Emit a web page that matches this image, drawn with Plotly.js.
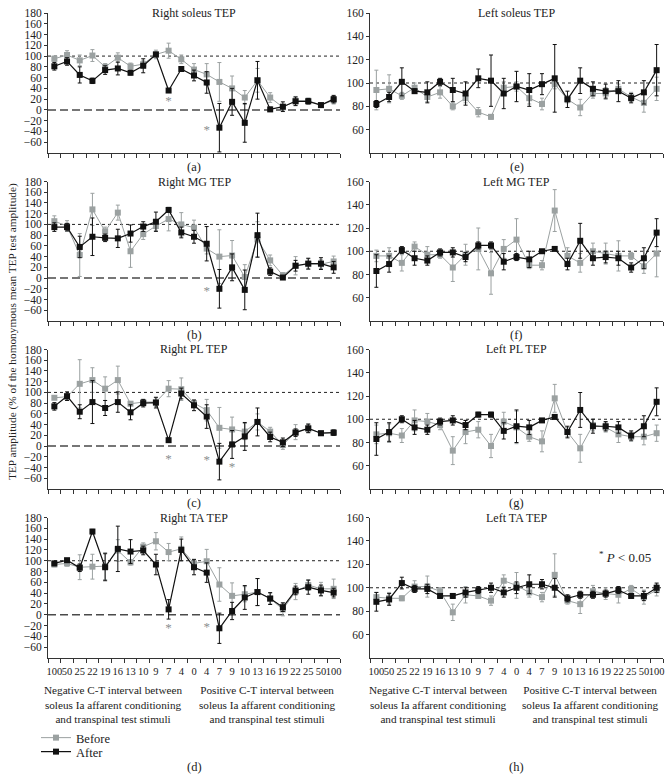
<!DOCTYPE html>
<html><head><meta charset="utf-8">
<script src="https://cdn.plot.ly/plotly-3.0.1.min.js"></script>
<style>html,body{margin:0;padding:0;background:#fff}#chart{width:670px;height:780px}</style>
</head><body><div id="chart"></div>
<script>
// C-T interval tick labels (negative side then positive side)
const ctLabels = ["100","50","25","22","19","16","13","10","9","7","4","0","4","7","9","10","13","16","19","22","25","50","100"];

// (a) Right soleus TEP
const rSolBefore    = [95,102,92,101,80,97,81,85,103,110,94,75,66,52,40,23,55,23,5,17,17,9,18];
const rSolBeforeErr = [5,8,10,11,6,9,6,6,8,14,8,11,20,36,23,13,22,9,5,8,5,3,7];
const rSolAfter     = [81,90,65,54,74,77,69,82,103,36,76,64,51,-33,15,-24,55,1,6,16,16,9,20];
const rSolAfterErr  = [7,7,15,5,8,12,4,13,4,3,4,10,20,45,25,36,35,4,9,8,5,2,7];

// (b) Right MG TEP
const rMgBefore     = [106,97,43,128,87,122,50,82,97,110,100,94,55,40,42,2,72,33,5,23,26,26,31];
const rMgBeforeErr  = [10,10,40,30,8,14,30,10,8,22,22,14,10,50,28,23,33,10,5,17,10,8,10];
const rMgAfter      = [95,95,58,77,75,74,83,96,105,127,85,77,64,-20,20,-22,80,12,1,23,27,27,20];
const rMgAfterErr   = [8,7,20,35,7,17,16,9,18,3,10,12,32,36,25,37,41,7,3,10,10,11,11];

// (c) Right PL TEP
const rPlBefore     = [90,92,116,123,107,123,79,82,82,107,106,80,67,34,31,27,45,27,2,26,33,24,25];
const rPlBeforeErr  = [3,5,45,23,22,26,4,5,8,15,21,5,20,38,23,15,15,8,8,14,8,3,5];
const rPlAfter      = [74,93,64,82,71,82,63,80,81,11,98,76,55,-29,3,18,45,17,7,25,33,24,25];
const rPlAfterErr   = [7,8,13,40,14,19,14,7,10,3,10,10,22,34,26,26,26,9,8,7,8,2,5];

// (d) Right TA TEP
const rTaBefore     = [93,95,88,89,90,119,97,126,136,116,122,95,99,56,35,38,42,30,10,43,55,48,48];
const rTaBeforeErr  = [4,5,23,23,25,20,5,7,16,16,22,8,22,31,24,14,25,10,12,15,10,12,18];
const rTaAfter      = [95,101,87,154,88,122,117,119,93,10,120,88,78,-25,7,32,42,30,14,45,51,45,41];
const rTaAfterErr   = [4,3,7,4,25,42,22,8,19,18,20,14,18,28,16,22,25,11,8,8,13,10,8];

// (e) Left soleus TEP
const lSolBefore    = [94,95,89,96,88,92,80,87,75,71,96,97,87,82,99,86,79,91,91,95,88,83,95];
const lSolBeforeErr = [17,12,3,4,4,5,3,4,4,2,5,4,5,5,4,3,7,4,5,4,4,8,10];
const lSolAfter     = [82,88,101,93,92,101,94,91,104,102,91,97,94,99,104,86,102,95,93,93,87,92,111];
const lSolAfterErr  = [3,4,12,2,9,3,10,10,8,22,13,13,14,9,29,7,11,6,6,9,4,10,22];

// (f) Left MG TEP
const lMgBefore     = [96,96,90,104,97,97,86,97,102,81,102,110,88,88,135,96,90,100,98,96,96,87,98];
const lMgBeforeErr  = [5,7,7,4,7,3,12,9,18,18,8,18,3,4,18,7,8,7,9,13,3,6,20];
const lMgAfter      = [83,89,101,94,92,99,99,95,105,105,91,95,93,100,102,89,109,94,95,94,86,94,116];
const lMgAfterErr   = [14,7,3,6,4,3,4,4,3,3,7,3,7,1,1,5,15,6,5,6,4,9,12];

// (g) Left PL TEP
const lPlBefore     = [87,88,86,99,98,95,73,89,91,77,98,93,85,81,118,89,75,95,93,87,85,85,88];
const lPlBeforeErr  = [8,8,6,9,7,4,12,10,7,10,8,14,4,9,12,4,12,5,4,7,4,7,7];
const lPlAfter      = [83,89,100,93,91,98,99,95,104,104,90,94,93,99,102,89,108,94,94,93,86,94,115];
const lPlAfterErr   = [14,8,3,6,4,3,4,4,2,2,7,14,6,1,1,5,15,6,4,5,4,9,12];

// (h) Left TA TEP
const lTaBefore     = [92,91,91,101,101,97,79,94,93,89,106,102,96,92,111,89,86,97,95,94,99,92,98];
const lTaBeforeErr  = [4,5,2,5,9,3,7,7,2,4,5,11,4,4,18,3,8,5,5,7,3,6,5];
const lTaAfter      = [88,90,104,99,99,93,93,96,98,100,96,100,103,103,100,91,94,94,95,98,93,93,100];
const lTaAfterErr   = [8,5,5,3,4,2,2,4,3,4,4,5,8,4,8,3,3,3,3,3,2,4,4];

// significance marks: [panel, category index, y]
const sigPanel = [0,0,1,2,2,2,3,3];
const sigIndex = [9,12,12,9,12,14,9,12];
const sigY     = [15,-39,-25,-25,-27,-40,-26,-24];

const FONT = "Liberation Serif, 'Times New Roman', serif";
const GRAY = "#9ba1a1";
const BLACK = "#111111";
const idx = ctLabels.map((_, i) => i);
const bounds = [];
for (let i = 0; i <= ctLabels.length; i++) bounds.push(i - 0.5);

const panels = [
  {t:"Right soleus TEP", b:rSolBefore, be:rSolBeforeErr, a:rSolAfter, ae:rSolAfterErr, col:0, row:0, lab:"(a)"},
  {t:"Right MG TEP", b:rMgBefore, be:rMgBeforeErr, a:rMgAfter, ae:rMgAfterErr, col:0, row:1, lab:"(b)"},
  {t:"Right PL TEP", b:rPlBefore, be:rPlBeforeErr, a:rPlAfter, ae:rPlAfterErr, col:0, row:2, lab:"(c)"},
  {t:"Right TA TEP", b:rTaBefore, be:rTaBeforeErr, a:rTaAfter, ae:rTaAfterErr, col:0, row:3, lab:"(d)"},
  {t:"Left soleus TEP", b:lSolBefore, be:lSolBeforeErr, a:lSolAfter, ae:lSolAfterErr, col:1, row:0, lab:"(e)"},
  {t:"Left MG TEP", b:lMgBefore, be:lMgBeforeErr, a:lMgAfter, ae:lMgAfterErr, col:1, row:1, lab:"(f)"},
  {t:"Left PL TEP", b:lPlBefore, be:lPlBeforeErr, a:lPlAfter, ae:lPlAfterErr, col:1, row:2, lab:"(g)"},
  {t:"Left TA TEP", b:lTaBefore, be:lTaBeforeErr, a:lTaAfter, ae:lTaAfterErr, col:1, row:3, lab:"(h)"}
];

const W = 670, H = 780;
const colX = [[48, 340], [370, 663]];
const rowY = [[13, 153], [181.5, 321], [349.5, 489], [517.5, 658]];

const traces = [];
const legendBase = {xanchor: "left", yanchor: "middle", font: {family: FONT, size: 12.5, color: "#222"},
  bgcolor: "rgba(0,0,0,0)", tracegroupgap: 0, itemwidth: 30, borderwidth: 0};
const layout = {
  width: W, height: H,
  margin: {l:0, r:0, t:0, b:0},
  paper_bgcolor: "#fff", plot_bgcolor: "rgba(0,0,0,0)",
  font: {family: FONT, size: 11, color: "#222"},
  showlegend: true,
  legend: Object.assign({x: 36/W, y: 1 - 738/H}, legendBase),
  legend2: Object.assign({x: 36/W, y: 1 - 752/H}, legendBase),
  shapes: [], annotations: []
};

panels.forEach((p, i) => {
  const n = i + 1;
  const xs = n === 1 ? "" : String(n);
  const xd = [colX[p.col][0] / W, colX[p.col][1] / W];
  const yd = [1 - rowY[p.row][1] / H, 1 - rowY[p.row][0] / H];
  const bottom = p.row === 3;
  const isLeft = p.col === 0;
  layout["xaxis" + xs] = {
    domain: xd, anchor: "y" + xs, range: [-0.5, 22.5],
    showline: true, linecolor: "#333", linewidth: 1, showgrid: false, zeroline: false,
    tickmode: "array", tickvals: idx, ticktext: ctLabels, showticklabels: bottom,
    ticks: "outside", ticklen: 3, tickcolor: "rgba(0,0,0,0)",
    tickfont: {family: FONT, size: 10.5, color: "#222"}, tickangle: 0,
    minor: {tickmode: "array", tickvals: bounds, ticks: "outside", ticklen: 4, tickcolor: "#333", tickwidth: 1, showgrid: false},
    fixedrange: true
  };
  layout["yaxis" + xs] = {
    domain: yd, anchor: "x" + xs,
    range: isLeft ? [-80, 180] : [40, 160],
    tickmode: "array",
    tickvals: isLeft ? [-60,-40,-20,0,20,40,60,80,100,120,140,160,180] : [60,80,100,120,140,160],
    showline: true, linecolor: "#333", linewidth: 1, showgrid: false, zeroline: false,
    ticks: "outside", ticklen: 3, tickcolor: "#333",
    tickfont: {family: FONT, size: 11.5, color: "#222"},
    fixedrange: true
  };
  traces.push({
    x: idx, y: p.b, type: "scatter", mode: "lines+markers", name: "Before",
    legend: "legend", showlegend: i === 0,
    line: {color: GRAY, width: 1}, marker: {symbol: "square", size: 6, color: GRAY},
    error_y: {type: "data", array: p.be, visible: true, color: GRAY, thickness: 1, width: 2},
    xaxis: "x" + xs, yaxis: "y" + xs, cliponaxis: false
  });
  traces.push({
    x: idx, y: p.a, type: "scatter", mode: "lines+markers", name: "After",
    legend: "legend2", showlegend: i === 0,
    line: {color: BLACK, width: 1.2}, marker: {symbol: "square", size: 6, color: BLACK},
    error_y: {type: "data", array: p.ae, visible: true, color: BLACK, thickness: 1, width: 2},
    xaxis: "x" + xs, yaxis: "y" + xs, cliponaxis: false
  });
  // reference lines
  layout.shapes.push({type: "line", xref: "x" + xs + " domain", x0: 0, x1: 1, yref: "y" + xs, y0: 100, y1: 100,
    line: {color: "#222", width: 1, dash: "dot"}, layer: "below"});
  if (isLeft) {
    layout.shapes.push({type: "line", xref: "x" + xs + " domain", x0: 0, x1: 1, yref: "y" + xs, y0: 0, y1: 0,
      line: {color: "#4a4a4a", width: 1.5, dash: "8px,4px"}, layer: "below"});
  }
  // panel title
  layout.annotations.push({text: p.t, xref: "paper", yref: "paper", x: (xd[0] + xd[1]) / 2, y: yd[1],
    xanchor: "center", yanchor: "middle", yshift: 0, showarrow: false, font: {family: FONT, size: 12, color: "#222"}});
  // panel letter
  const labY = bottom ? 766.5 : rowY[p.row][1] + 14;
  layout.annotations.push({text: p.lab, xref: "paper", yref: "paper", x: (xd[0] + xd[1]) / 2, y: 1 - labY / H,
    xanchor: "center", yanchor: "middle", showarrow: false, font: {family: FONT, size: 12.5, color: "#222"}});
});

// significance asterisks
for (let k = 0; k < 8; k++) {
  const pts = sigPanel.map((pp, j) => pp === k ? j : -1).filter(j => j >= 0);
  if (!pts.length) continue;
  const xs = k === 0 ? "" : String(k + 1);
  traces.push({
    x: pts.map(j => sigIndex[j]), y: pts.map(j => sigY[j]), type: "scatter", mode: "text",
    text: pts.map(() => "*"), textposition: "middle center", showlegend: false, hoverinfo: "skip",
    textfont: {family: FONT, size: 13, color: pts.map(() => "#8a8f8f")}, xaxis: "x" + xs, yaxis: "y" + xs
  });
}

// axis group texts
const negText = "Negative C-T interval between<br>soleus Ia affarent conditioning<br>and transpinal test stimuli";
const posText = "Positive C-T interval between<br>soleus Ia affarent conditioning<br>and transpinal test stimuli";
[[113, negText], [267.5, posText], [437.5, negText], [590, posText]].forEach(([cx, txt]) => {
  layout.annotations.push({text: txt, xref: "paper", yref: "paper", x: cx / W, y: 1 - 704 / H,
    xanchor: "center", yanchor: "middle", showarrow: false, align: "center",
    font: {family: FONT, size: 11.2, color: "#222"}});
});

// y axis title
layout.annotations.push({text: "TEP amplitude (% of the homonymous mean TEP test amplitude)", xref: "paper", yref: "paper",
  x: 12 / W, y: 1 - 332 / H, xanchor: "center", yanchor: "middle", textangle: -90, showarrow: false,
  font: {family: FONT, size: 11.3, color: "#222"}});

// p-value note
layout.annotations.push({text: "<sup>*</sup> <i>P</i> &lt; 0.05", xref: "paper", yref: "paper",
  x: 625 / W, y: 1 - 557 / H, xanchor: "center", yanchor: "middle", showarrow: false,
  font: {family: FONT, size: 13, color: "#222"}});

Plotly.newPlot("chart", traces, layout, {displayModeBar: false, staticPlot: true});
</script>
</body></html>
